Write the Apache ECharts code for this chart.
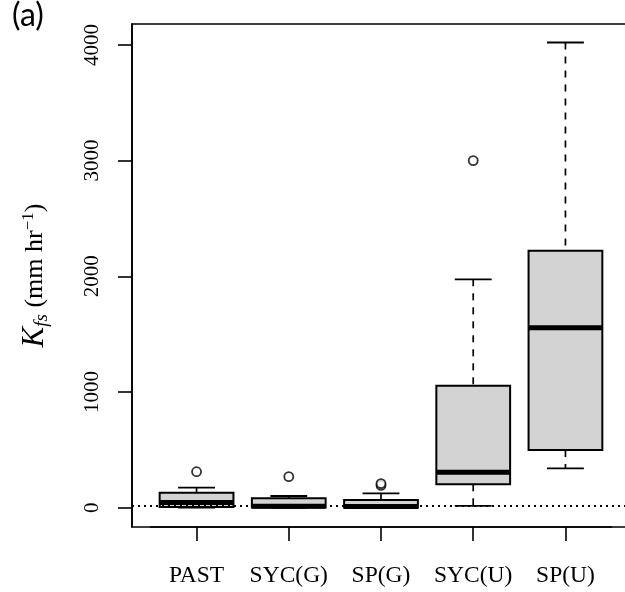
<!DOCTYPE html>
<html><head><meta charset="utf-8">
<script src="https://cdn.jsdelivr.net/npm/echarts@6/dist/echarts.min.js"></script>
<style>html,body{margin:0;padding:0;background:#fff;overflow:hidden}#c{width:630px;height:592px}</style>
</head><body><div id="c"></div>
<script>
const categories = ['PAST', 'SYC(G)', 'SP(G)', 'SYC(U)', 'SP(U)'];
const lowWhisker = [0, 0, 0, 15, 340];
const q1 = [5, 2, 0, 202, 499];
const median = [45, 12, 10, 306, 1556];
const q3 = [130, 81, 67, 1055, 2222];
const highWhisker = [173, 101, 124, 1974, 4021];
const outlierGroup = [0, 1, 2, 2, 3];
const outlierValue = [311, 268, 192, 208, 3000];
const yTicks = [0, 1000, 2000, 3000, 4000];
const refLine = 20;

const boxData = categories.map((c, i) => [i + 1, lowWhisker[i], q1[i], median[i], q3[i], highWhisker[i]]);
const outData = outlierGroup.map((g, i) => [g + 1, outlierValue[i]]);

// plot frame spans x = 0.3 .. 5.7 (R-style 4% padding around 0.5 .. 5.5); its right edge lies just past the window
const W = 630, frameLeft = 132, frameRight = 0;
const unit = (W - frameRight - frameLeft) / 5.4;
const catLeft = frameLeft + 0.2 * unit;
const catRight = frameRight + 0.2 * unit;

const chart = echarts.init(document.getElementById('c'), null, {renderer: 'canvas'});
const serif = 'Liberation Serif';
chart.setOption({
  animation: false,
  backgroundColor: '#fff',
  grid: [
    {left: frameLeft, right: frameRight, top: 24, bottom: 65, show: true, borderColor: '#000', borderWidth: 1.6, backgroundColor: 'transparent'},
    {left: catLeft, right: catRight, top: 24, bottom: 65, show: false}
  ],
  xAxis: [
    {
      type: 'value', gridIndex: 0, min: 0.3, max: 5.7,
      axisLine: {show: false, onZero: false}, splitLine: {show: false},
      axisTick: {show: false}, axisLabel: {show: false}
    },
    {
      type: 'category', gridIndex: 1, data: categories, boundaryGap: true,
      axisLine: {show: true, onZero: false, lineStyle: {color: '#000', width: 1.6}},
      axisTick: {show: true, alignWithLabel: true, length: 14, lineStyle: {color: '#000', width: 1.6}},
      axisLabel: {fontFamily: serif, fontSize: 23.5, color: '#000', margin: 37, interval: 0}
    }
  ],
  yAxis: [
    {
      type: 'value', gridIndex: 0, min: -167, max: 4181,
      axisLine: {show: true, onZero: false, lineStyle: {color: '#000', width: 1.6}},
      splitLine: {show: false},
      axisTick: {show: true, customValues: yTicks, length: 14, lineStyle: {color: '#000', width: 1.6}},
      axisLabel: {customValues: yTicks, formatter: v => String(v), rotate: 90, fontFamily: serif, fontSize: 21, color: '#000', margin: 29},
      name: '{k|K}{s|fs}{n| (mm hr}{p|−1}{n|)}',
      nameLocation: 'middle', nameRotate: 90, nameGap: 78,
      nameTextStyle: {
        rich: {
          k: {fontFamily: serif, fontStyle: 'italic', fontSize: 31, color: '#000', lineHeight: 38, verticalAlign: 'middle'},
          s: {fontFamily: serif, fontStyle: 'italic', fontSize: 19, color: '#000', lineHeight: 38, verticalAlign: 'bottom', padding: [0, 0, 3, 0]},
          n: {fontFamily: serif, fontSize: 26, color: '#000', lineHeight: 38, verticalAlign: 'middle'},
          p: {fontFamily: serif, fontSize: 17, color: '#000', lineHeight: 38, verticalAlign: 'top', padding: [4, 0, 0, 0]}
        }
      }
    },
    {type: 'value', gridIndex: 1, show: false, min: 0, max: 1}
  ],
  graphic: [{type: 'text', left: 12, top: 0, style: {text: '(a)', font: '32px Lato', fill: '#000'}}],
  series: [
    {
      type: 'scatter', xAxisIndex: 0, yAxisIndex: 0, data: [], z: 1,
      markLine: {silent: true, symbol: 'none', label: {show: false},
        lineStyle: {color: '#000', width: 2.2, type: [2, 4]},
        data: [{yAxis: refLine}]}
    },
    {
      type: 'custom', xAxisIndex: 0, yAxisIndex: 0, z: 3, data: boxData,
      renderItem: function (params, api) {
        const x = api.value(0);
        const lo = api.coord([x, api.value(1)]);
        const b1 = api.coord([x, api.value(2)]);
        const md = api.coord([x, api.value(3)]);
        const b3 = api.coord([x, api.value(4)]);
        const hi = api.coord([x, api.value(5)]);
        const w = api.size([0.8, 0])[0];
        const cx = lo[0], half = w / 2, capHalf = w / 4;
        const dash = {stroke: '#000', lineWidth: 1.7, lineDash: [7, 7]};
        const solid = {stroke: '#000', lineWidth: 1.8};
        return {type: 'group', children: [
          {type: 'line', shape: {x1: cx, y1: hi[1], x2: cx, y2: b3[1]}, style: dash},
          {type: 'line', shape: {x1: cx, y1: b1[1], x2: cx, y2: lo[1]}, style: dash},
          {type: 'line', shape: {x1: cx - capHalf, y1: hi[1], x2: cx + capHalf, y2: hi[1]}, style: solid},
          {type: 'line', shape: {x1: cx - capHalf, y1: lo[1], x2: cx + capHalf, y2: lo[1]}, style: solid},
          {type: 'rect', shape: {x: cx - half, y: b3[1], width: w, height: b1[1] - b3[1]}, style: {fill: '#d3d3d3', stroke: '#000', lineWidth: 2}},
          {type: 'line', shape: {x1: cx - half, y1: md[1], x2: cx + half, y2: md[1]}, style: {stroke: '#000', lineWidth: 5}}
        ]};
      }
    },
    {
      type: 'scatter', xAxisIndex: 0, yAxisIndex: 0, z: 4, data: outData, symbol: 'circle', symbolSize: 9,
      itemStyle: {color: '#fff', borderColor: '#000', borderWidth: 1.8}
    }
  ]
});
</script>
</body></html>
